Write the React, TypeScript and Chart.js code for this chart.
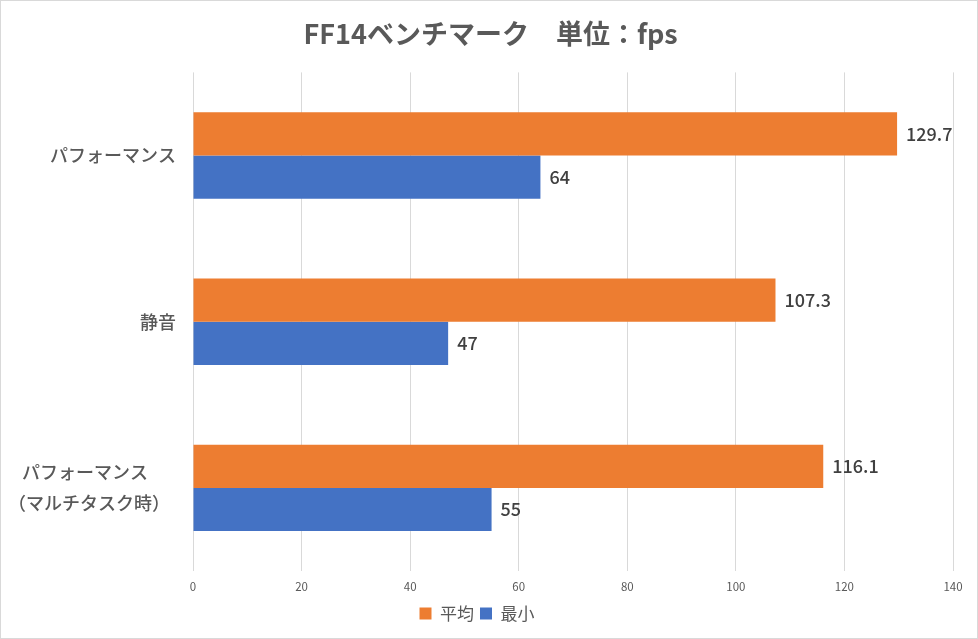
import { useRef, useEffect } from "react";
import { Chart, registerables } from "chart.js";
import type { Plugin } from "chart.js";

Chart.register(...registerables);

const categories = [
  "パフォーマンス",
  "静音",
  ["パフォーマンス　 \u2004", "（マルチタスク時）\u2004"],
];
const averageFps = [129.7, 107.3, 116.1];
const minimumFps = [64, 47, 55];

const FONT = "'Noto Sans CJK JP', 'Noto Sans', sans-serif";

// value labels at the end of each bar
const barValues: Plugin<"bar"> = {
  id: "barValues",
  afterDatasetsDraw(chart) {
    const { ctx } = chart;
    ctx.save();
    ctx.font = `500 18px ${FONT}`;
    ctx.fillStyle = "#404040";
    ctx.textAlign = "left";
    ctx.textBaseline = "middle";
    chart.data.datasets.forEach((ds, i) => {
      chart.getDatasetMeta(i).data.forEach((bar, j) => {
        ctx.fillText(String(ds.data[j]), bar.x + 9, bar.y);
      });
    });
    ctx.restore();
  },
};

export default function App() {
  const canvasRef = useRef<HTMLCanvasElement | null>(null);

  useEffect(() => {
    if (!canvasRef.current) return;
    const chart = new Chart(canvasRef.current, {
      type: "bar",
      data: {
        labels: categories,
        datasets: [
          { label: "平均", data: averageFps, backgroundColor: "#ED7D31" },
          { label: "最小", data: minimumFps, backgroundColor: "#4472C4" },
        ],
      },
      options: {
        indexAxis: "y",
        animation: false,
        responsive: false,
        maintainAspectRatio: false,
        layout: { padding: { left: 0, right: 24, top: 0, bottom: 6 } },
        datasets: { bar: { barPercentage: 1, categoryPercentage: 0.52 } },
        scales: {
          x: {
            min: 0,
            max: 140,
            ticks: { stepSize: 20, color: "#595959", font: { family: FONT, size: 11.5 }, padding: 9 },
            grid: { color: "#d9d9d9", drawTicks: false },
            border: { display: false },
            afterFit: (s) => {
              s.height = 28;
            },
          },
          y: {
            ticks: {
              color: "#595959",
              font: { family: FONT, size: 18, weight: 500, lineHeight: 1.72 },
              padding: 9,
            },
            grid: { display: false },
            border: { display: false },
            afterFit: (s) => {
              s.width = 192;
            },
          },
        },
        plugins: {
          title: {
            display: true,
            text: "　FF14ベンチマーク　単位：fps",
            color: "#595959",
            font: { family: FONT, size: 27, weight: "bold" },
            padding: { top: 17, bottom: 22 },
          },
          legend: {
            position: "bottom",
            labels: {
              color: "#595959",
              font: { family: FONT, size: 17 },
              boxWidth: 12,
              boxHeight: 12,
              padding: 6,
            },
          },
          tooltip: { enabled: false },
        },
      },
      plugins: [barValues],
    });
    return () => chart.destroy();
  }, []);

  return (
    <div
      style={{
        position: "absolute",
        left: 0,
        top: 0,
        width: 978,
        height: 639,
        boxSizing: "border-box",
        border: "1px solid #d9d9d9",
        background: "#fff",
      }}
    >
      <canvas ref={canvasRef} width={976} height={637} style={{ display: "block" }} />
    </div>
  );
}
